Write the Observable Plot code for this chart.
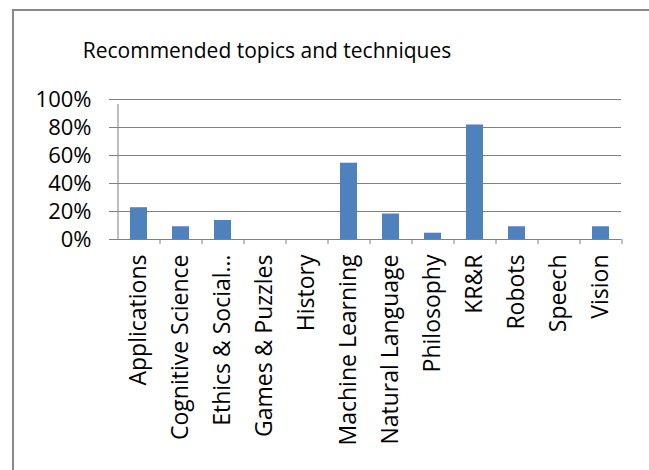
<!DOCTYPE html>
<html>
<head>
<meta charset="utf-8">
<script src="https://cdn.jsdelivr.net/npm/d3@7"></script>
<script src="https://cdn.jsdelivr.net/npm/@observablehq/plot@0.6"></script>
<style>
  html, body { margin: 0; padding: 0; background: #fff; }
  #wrap { position: relative; width: 649px; height: 470px; overflow: hidden; font-family: "Open Sans", sans-serif; }
  #frame { position: absolute; left: 12px; top: 9px; width: 700px; height: 500px; border-left: 2px solid #898989; border-top: 2px solid #898989; box-sizing: border-box; }
  #title { position: absolute; left: 267px; top: 36px; transform: translateX(-50%); font-size: 21px; white-space: nowrap; color: #000; }
  #chart { position: absolute; left: 0; top: 0; }
</style>
</head>
<body>
<div id="wrap">
  <div id="frame"></div>
  <div id="title">Recommended topics and techniques</div>
  <div id="chart"></div>
</div>
<script>
const categories = ["Applications", "Cognitive Science", "Ethics & Social…", "Games & Puzzles", "History", "Machine Learning", "Natural Language", "Philosophy", "KR&R", "Robots", "Speech", "Vision"];
const values = [0.227, 0.091, 0.136, 0, 0, 0.545, 0.182, 0.045, 0.818, 0.091, 0, 0.091];
const yTicks = [0, 0.2, 0.4, 0.6, 0.8, 1.0];

const data = categories.map((c, i) => ({category: c, value: values[i]}));

const W = 649, ML = 117, MR = 28;
const step = (W - ML - MR) / categories.length;

const chart = Plot.plot({
  width: W,
  height: 470,
  marginLeft: ML,
  marginRight: MR,
  marginTop: 99,
  marginBottom: 231,
  style: {fontFamily: "'Open Sans', sans-serif", fontSize: "22px", color: "#000", background: "transparent", overflow: "visible"},
  x: {domain: categories, paddingInner: 0.6, paddingOuter: 0.3, label: null},
  y: {domain: [0, 1], ticks: yTicks, label: null},
  marks: [
    Plot.ruleY(yTicks, {stroke: "#808080", strokeWidth: 1, insetLeft: -8}),
    Plot.barY(data, {x: "category", y: "value", fill: "#4F81BD"}),
    Plot.ruleX([categories[0]], {x: d => d, dx: -step / 2, y1: 0, y2: 1, insetBottom: -5, stroke: "#808080"}),
    Plot.ruleX(categories.slice(1), {x: d => d, dx: -step / 2, y1: 0, y2: 0, insetBottom: -5, stroke: "#808080"}),
    Plot.ruleX([categories[categories.length - 1]], {x: d => d, dx: step / 2, y1: 0, y2: 0, insetBottom: -5, stroke: "#808080"}),
    Plot.axisY({ticks: yTicks, tickFormat: d3.format(".0%"), tickSize: 0, tickPadding: 26, fontSize: 22, fill: "#000"}),
    Plot.axisX({tickSize: 0, tickRotate: -90, tickPadding: 15, fontSize: 23, fill: "#000"})
  ]
});
document.getElementById("chart").appendChild(chart);
</script>
</body>
</html>
